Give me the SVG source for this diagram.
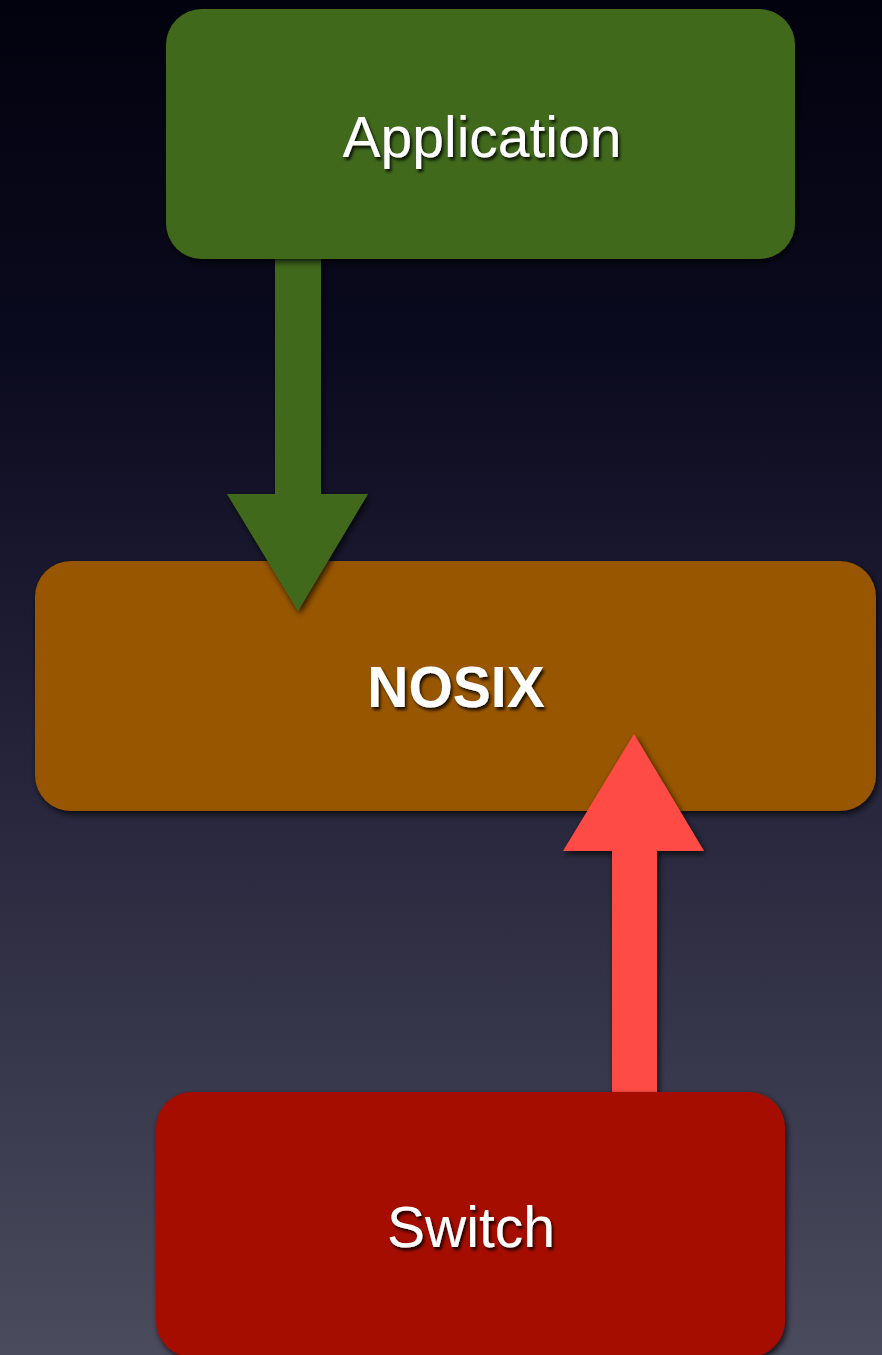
<svg xmlns="http://www.w3.org/2000/svg" width="882" height="1355" viewBox="0 0 882 1355">
  <defs>
    <linearGradient id="bg" x1="0" y1="0" x2="0" y2="1">
      <stop offset="0" stop-color="#02020e"/>
      <stop offset="0.25" stop-color="#0a0a1e"/>
      <stop offset="0.5" stop-color="#1f1e35"/>
      <stop offset="0.75" stop-color="#353549"/>
      <stop offset="1" stop-color="#4b4b5e"/>
    </linearGradient>
    <filter id="shadow" x="-10%" y="-10%" width="125%" height="125%">
      <feDropShadow dx="2" dy="3" stdDeviation="3" flood-color="#000" flood-opacity="0.75"/>
    </filter>
    <filter id="tshadow" x="-10%" y="-20%" width="125%" height="150%">
      <feDropShadow dx="2" dy="3" stdDeviation="1.5" flood-color="#000" flood-opacity="0.8"/>
    </filter>
  </defs>
  <style>
    .box { filter: url(#shadow); }
    .label { font-family: "Liberation Sans", Arial, sans-serif; font-size: 57px; fill: #ffffff; text-anchor: middle; filter: url(#tshadow); }
    .bold { font-weight: bold; font-size: 57px; }
    .arrow { filter: url(#shadow); }
  </style>
  <rect x="0" y="0" width="882" height="1355" fill="url(#bg)"/>

  <g id="nosix">
    <rect class="box" x="35" y="561" width="841" height="250" rx="36" ry="36" fill="#985600"/>
    <text class="label bold" x="456" y="707">NOSIX</text>
  </g>

  <g id="connectors">
    <polygon class="arrow" fill="#41691f" points="275,250 321,250 321,494 368,494 298,611 227,494 275,494"/>
    <polygon class="arrow" fill="#ff4b44" points="612,1100 657,1100 657,851 704,851 634,734 563,851 612,851"/>
  </g>

  <g id="application">
    <rect class="box" x="166" y="9" width="629" height="250" rx="36" ry="36" fill="#41691f"/>
    <text class="label" x="482" y="157">Application</text>
  </g>

  <g id="switch">
    <rect class="box" x="156" y="1092" width="629" height="265" rx="36" ry="36" fill="#a50a00"/>
    <text class="label" x="471" y="1247">Switch</text>
  </g>
</svg>
